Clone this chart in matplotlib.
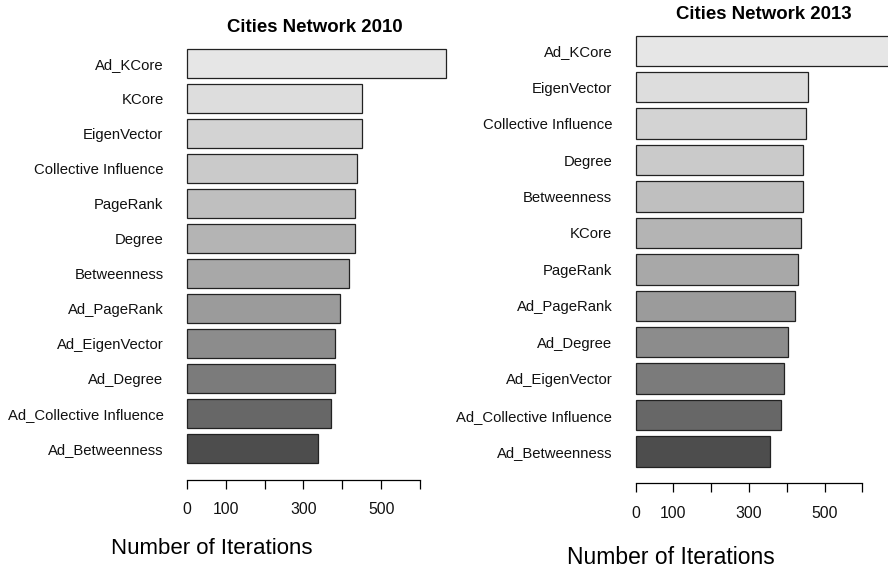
import numpy as np
import matplotlib
matplotlib.use("Agg")
import matplotlib.pyplot as plt

plt.rcParams['font.family'] = ['Liberation Sans', 'DejaVu Sans']

# Data (top to bottom as shown)
cats_2010 = ["Ad_KCore", "KCore", "EigenVector", "Collective Influence", "PageRank",
             "Degree", "Betweenness", "Ad_PageRank", "Ad_EigenVector", "Ad_Degree",
             "Ad_Collective Influence", "Ad_Betweenness"]
vals_2010 = [667, 450, 450, 438, 433, 433, 418, 393, 381, 381, 372, 337]

cats_2013 = ["Ad_KCore", "EigenVector", "Collective Influence", "Degree", "Betweenness",
             "KCore", "PageRank", "Ad_PageRank", "Ad_Degree", "Ad_EigenVector",
             "Ad_Collective Influence", "Ad_Betweenness"]
vals_2013 = [700, 457, 450, 442, 442, 437, 431, 422, 403, 393, 385, 356]

tick_vals = [0, 100, 200, 300, 400, 500, 600]
tick_labels = ["0", "100", "", "300", "", "500", ""]

W, H = 888, 576
fig = plt.figure(figsize=(W / 100, H / 100), dpi=100)

# R gray.colors(12, 0.3, 0.9) style shades, light at top
n = 12
shades = np.linspace(0.9 ** 2.2, 0.3 ** 2.2, n) ** (1 / 2.2)
colors = [(s, s, s) for s in shades]


def px_axes(x0, x1, ytop, ybot):
    return fig.add_axes([x0 / W, (H - ybot) / H, (x1 - x0) / W, (ybot - ytop) / H])


def draw(ax, cats, vals, xmax, outward):
    ypos = 0.7 + np.arange(n)[::-1] * 1.2
    ax.barh(ypos, vals, height=1.0, color=colors, edgecolor="#222222", linewidth=0.9)
    ax.set_ylim(0.2 - 0.284, 14.4 + 0.284)
    ax.set_xlim(-14, xmax)
    ax.set_yticks(ypos)
    ax.set_yticklabels(cats, fontsize=10.7, color="#111111")
    ax.tick_params(axis="y", length=0, pad=13)
    for s in ["top", "right", "left"]:
        ax.spines[s].set_visible(False)
    ax.spines["bottom"].set_bounds(0, 600)
    ax.spines["bottom"].set_position(("outward", outward))
    ax.spines["bottom"].set_linewidth(0.9)
    ax.set_xticks(tick_vals)
    ax.set_xticklabels(tick_labels, fontsize=11.3, color="#111111")
    ax.tick_params(axis="x", length=6.5, width=0.9, pad=9.5)
    ax.set_facecolor("none")


ax1 = px_axes(181.6, 451.0, 40.7, 471.3)
draw(ax1, cats_2010, vals_2010, 680, 6.3)

ax2 = px_axes(630.4, 907.6, 27.0, 475.3)
draw(ax2, cats_2013, vals_2013, 720, 5.8)

fig.text(315 / W, 1 - 27.7 / H, "Cities Network 2010", ha="center", va="center",
         fontsize=13.4, fontweight="bold")
fig.text(764 / W, 1 - 14.5 / H, "Cities Network 2013", ha="center", va="center",
         fontsize=13.4, fontweight="bold")
fig.text(212 / W, 1 - 549 / H, "Number of Iterations", ha="center", va="center",
         fontsize=16)
fig.text(671 / W, 1 - 558 / H, "Number of Iterations", ha="center", va="center",
         fontsize=16.5)

fig.savefig("out.png", dpi=100)
